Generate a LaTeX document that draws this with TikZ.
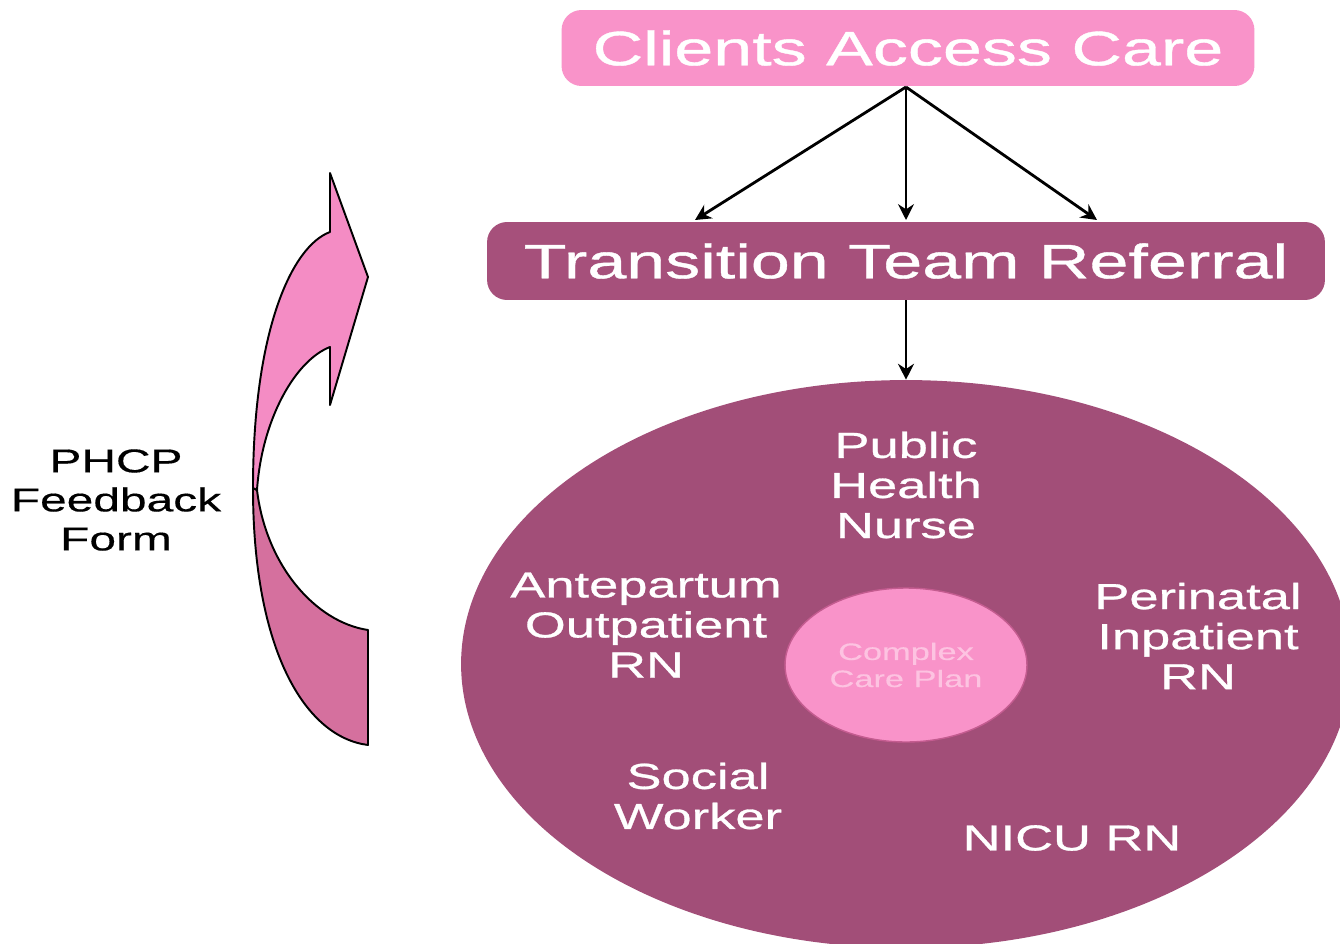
\documentclass[tikz,border=0pt]{standalone}
\usepackage{fontspec}
\setmainfont{Liberation Sans}
\newfontfamily\widefont[FakeStretch=1.45,FakeBold=0.8]{Liberation Sans}
\newfontfamily\widethin[FakeStretch=1.45,FakeBold=0.4]{Liberation Sans}
\usetikzlibrary{arrows.meta,shapes.geometric}
\definecolor{boxpink}{HTML}{F993C9}
\definecolor{mauve}{HTML}{A6507B}
\definecolor{ellmauve}{HTML}{A24E78}
\definecolor{innerborder}{HTML}{C45C90}
\definecolor{faintpink}{HTML}{FDC3E1}
\definecolor{arrowup}{HTML}{F48CC4}
\definecolor{arrowlow}{HTML}{D5709E}
\tikzset{
  topbox/.style={rounded corners=0.4cm, inner sep=0pt, text=white,
    font=\widefont\fontsize{27.5}{30}\selectfont},
  member/.style={text=white, align=center,
    font=\widefont\fontsize{20.6}{22.8}\selectfont},
  conn/.style={draw=black, line width=1.6pt, -{Stealth[length=9pt,width=9pt]}},
  bandline/.style={draw=black, line width=1.1pt, line join=round}
}
\begin{document}
\begin{tikzpicture}[x=0.02cm,y=-0.02cm]
\useasboundingbox (0,0) rectangle (1340,944);
\fill[white] (0,0) rectangle (1340,944);

% top boxes
\node[topbox, fill=boxpink, minimum width=13.86cm, minimum height=1.52cm] (clients) at (908,48) {Clients Access Care};
\node[topbox, fill=mauve, minimum width=16.76cm, minimum height=1.56cm] (ttr) at (906,261) {Transition Team Referral};

% big ellipse
\node[ellipse, fill=ellmauve, minimum width=17.8cm, minimum height=11.36cm, inner sep=0pt] (team) at (906,664) {};
\node[ellipse, fill=boxpink, draw=innerborder, line width=0.8pt, minimum width=4.84cm, minimum height=3.08cm, inner sep=0pt,
  align=center, text=faintpink, font=\widethin\fontsize{13.5}{15.4}\selectfont] (plan) at (906,665) {Complex\\Care Plan};

% connectors
\coordinate (t1) at (695,220);
\coordinate (t2) at (906,220);
\coordinate (t3) at (1097,220);
\coordinate (src) at (906,87);
\draw[conn] (src) -- (t1);
\draw[conn] (src) -- (t2);
\draw[conn] (src) -- (t3);
\draw[conn] (ttr.south) -- (team.north);

% members
\node[member] (phn) at (906,485) {Public\\Health\\Nurse};
\node[member] (ante) at (646,625) {Antepartum\\Outpatient\\RN};
\node[member] (peri) at (1198,636) {Perinatal\\Inpatient\\RN};
\node[member] (sw) at (698,796) {Social\\Worker};
\node[member] (nicu) at (1072,838) {NICU RN};

% feedback label
\node[align=center, text=black, font=\widethin\fontsize{18.8}{22.2}\selectfont] (phcp) at (116,500) {PHCP\\Feedback\\Form};

% curved arrow: back band
\filldraw[bandline, fill=arrowlow]
  (253,488) .. controls (253,650) and (305,737) .. (368,745)
  -- (368,630) .. controls (315,622) and (266,565) .. (257,490) -- cycle;
% curved arrow: front band with head
\filldraw[bandline, fill=arrowup]
  (253,488) .. controls (253,330) and (292,246) .. (330,232)
  -- (330,173) -- (368,277) -- (330,405) -- (330,347)
  .. controls (296,360) and (262,418) .. (257,490) -- cycle;
\end{tikzpicture}
\end{document}
